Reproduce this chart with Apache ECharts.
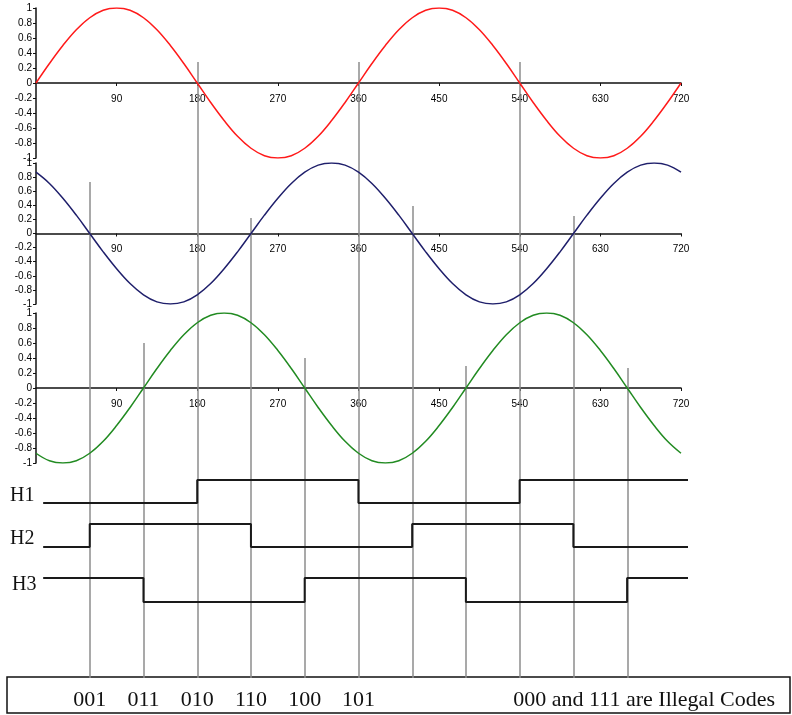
<!DOCTYPE html>
<html>
<head>
<meta charset="utf-8">
<script src="https://cdn.jsdelivr.net/npm/echarts@6/dist/echarts.min.js"></script>
<style>
html, body { margin: 0; padding: 0; background: #fff; }
#main { width: 792px; height: 715px; }
</style>
</head>
<body>
<div id="main"></div>
<script>
// electrical angle, degrees
var angles = [0,15,30,45,60,75,90,105,120,135,150,165,180,195,210,225,240,255,270,285,300,315,330,345,
              360,375,390,405,420,435,450,465,480,495,510,525,540,555,570,585,600,615,630,645,660,675,690,705,720];
// phase waves
var waveA = [0,0.26,0.5,0.71,0.87,0.97,1,0.97,0.87,0.71,0.5,0.26,0,-0.26,-0.5,-0.71,-0.87,-0.97,-1,-0.97,-0.87,-0.71,-0.5,-0.26,
             0,0.26,0.5,0.71,0.87,0.97,1,0.97,0.87,0.71,0.5,0.26,0,-0.26,-0.5,-0.71,-0.87,-0.97,-1,-0.97,-0.87,-0.71,-0.5,-0.26,0];
var waveB = [0.87,0.71,0.5,0.26,0,-0.26,-0.5,-0.71,-0.87,-0.97,-1,-0.97,-0.87,-0.71,-0.5,-0.26,0,0.26,0.5,0.71,0.87,0.97,1,0.97,
             0.87,0.71,0.5,0.26,0,-0.26,-0.5,-0.71,-0.87,-0.97,-1,-0.97,-0.87,-0.71,-0.5,-0.26,0,0.26,0.5,0.71,0.87,0.97,1,0.97,0.87];
var waveC = [-0.87,-0.97,-1,-0.97,-0.87,-0.71,-0.5,-0.26,0,0.26,0.5,0.71,0.87,0.97,1,0.97,0.87,0.71,0.5,0.26,0,-0.26,-0.5,-0.71,
             -0.87,-0.97,-1,-0.97,-0.87,-0.71,-0.5,-0.26,0,0.26,0.5,0.71,0.87,0.97,1,0.97,0.87,0.71,0.5,0.26,0,-0.26,-0.5,-0.71,-0.87];

// hall sensor edges (degrees) and the level that follows each edge
var hallEdges = [8,60,120,180,240,300,360,420,480,540,600,660,728];
var h1Levels = [0,0,0,1,1,1,0,0,0,1,1,1,1];
var h2Levels = [0,1,1,1,0,0,0,1,1,1,0,0,0];
var h3Levels = [1,1,0,0,0,1,1,1,0,0,0,1,1];
var hallNames = ['H1','H2','H3'];

// switching lines: angle and where each line starts (page rows)
var switchAngles = [60,120,180,240,300,360,420,480,540,600,660];
var switchTops = [182,343,62,218,358,62,206,366,62,216,368];
var switchBottom = 678;

var codeAngles = [60,120,180,240,300,360];
var codes = ['001','011','010','110','100','101'];
var noteText = '000 and 111 are Illegal Codes';

var serif = '"Liberation Serif", "Times New Roman", serif';
var sans = '"Liberation Sans", Arial, sans-serif';

var chart = echarts.init(document.getElementById('main'));

var gridHeights = [150, 141, 150];

// x axis drawn through the middle (value 0) of each wave grid
function waveX(idx) {
    return {
        gridIndex: idx, type: 'value', min: 0, max: 720, interval: 90,
        offset: -gridHeights[idx] / 2,
        axisLine: { onZero: false, lineStyle: { color: '#111', width: 1.5 } },
        axisTick: { length: 3, lineStyle: { color: '#111' } },
        axisLabel: { showMinLabel: false, fontFamily: sans, fontSize: 10, color: '#000', margin: 11 },
        splitLine: { show: false }
    };
}
function waveY(idx) {
    return {
        gridIndex: idx, type: 'value', min: -1, max: 1, interval: 0.2,
        axisLine: { show: true, onZero: false, lineStyle: { color: '#111', width: 1.5 } },
        axisTick: { show: true, length: 3, lineStyle: { color: '#111' } },
        axisLabel: { fontFamily: sans, fontSize: 10, color: '#000', margin: 4 },
        splitLine: { show: false }
    };
}
function hiddenAxis(idx, min, max, inverse) {
    return { gridIndex: idx, type: 'value', min: min, max: max, inverse: !!inverse, show: false, splitLine: { show: false } };
}
function zip(xs, ys) {
    return xs.map(function (x, i) { return [x, ys[i]]; });
}

var waveColors = ['#ff1a1a', '#1f1f6b', '#228b22'];
var waves = [waveA, waveB, waveC];

var series = [];
waves.forEach(function (w, i) {
    series.push({
        type: 'line', xAxisIndex: i, yAxisIndex: i, data: zip(angles, w),
        smooth: 0.4, showSymbol: false, z: 5,
        lineStyle: { color: waveColors[i], width: 1.5 }
    });
});
[h1Levels, h2Levels, h3Levels].forEach(function (lv, i) {
    series.push({
        type: 'line', xAxisIndex: 3 + i, yAxisIndex: 3 + i, data: zip(hallEdges, lv),
        step: 'end', showSymbol: false, z: 5,
        lineStyle: { color: '#1a1a1a', width: 2 }
    });
});
series.push({
    type: 'lines', coordinateSystem: 'cartesian2d', xAxisIndex: 6, yAxisIndex: 6, z: 1,
    lineStyle: { color: '#8c8c8c', width: 1.5, opacity: 1 },
    data: switchAngles.map(function (a, i) {
        return { coords: [[a, switchTops[i]], [a, switchBottom]] };
    })
});
series.push({
    type: 'scatter', xAxisIndex: 6, yAxisIndex: 6, symbolSize: 1, z: 6,
    itemStyle: { opacity: 0 },
    data: codeAngles.map(function (a) { return [a, 700]; }),
    label: {
        show: true, position: 'inside', opacity: 1,
        formatter: function (p) { return codes[p.dataIndex]; },
        fontFamily: serif, fontSize: 22, color: '#111'
    }
});

chart.setOption({
    animation: false,
    backgroundColor: '#fff',
    grid: [
        { left: 36, width: 645, top: 8, height: gridHeights[0] },
        { left: 36, width: 645, top: 163, height: gridHeights[1] },
        { left: 36, width: 645, top: 313, height: gridHeights[2] },
        { left: 36, width: 652, top: 480, height: 23 },
        { left: 36, width: 652, top: 524, height: 23 },
        { left: 36, width: 652, top: 578, height: 24 },
        { left: 36, width: 645, top: 0, height: 715 }
    ],
    xAxis: [waveX(0), waveX(1), waveX(2),
        hiddenAxis(3, 0, 728), hiddenAxis(4, 0, 728), hiddenAxis(5, 0, 728),
        hiddenAxis(6, 0, 720)],
    yAxis: [waveY(0), waveY(1), waveY(2),
        hiddenAxis(3, 0, 1), hiddenAxis(4, 0, 1), hiddenAxis(5, 0, 1),
        hiddenAxis(6, 0, 715, true)],
    graphic: [
        { type: 'text', left: 10, top: 486, style: { text: hallNames[0], font: '20px ' + serif, fill: '#111' } },
        { type: 'text', left: 10, top: 529, style: { text: hallNames[1], font: '20px ' + serif, fill: '#111' } },
        { type: 'text', left: 12, top: 575, style: { text: hallNames[2], font: '20px ' + serif, fill: '#111' } },
        { type: 'rect', shape: { x: 7, y: 677, width: 783, height: 36 }, style: { fill: 'none', stroke: '#111', lineWidth: 1.5 } },
        { type: 'text', x: 775, y: 700, style: { text: noteText, font: '22px ' + serif, fill: '#111', textAlign: 'right', textVerticalAlign: 'middle' } }
    ],
    series: series
});
</script>
</body>
</html>
